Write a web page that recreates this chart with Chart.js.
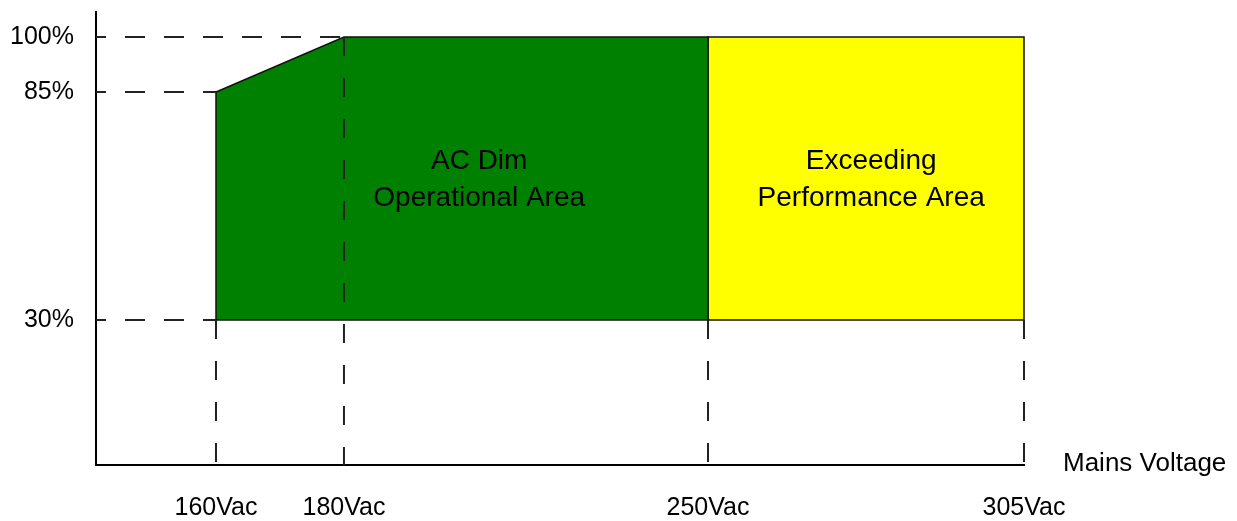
<!DOCTYPE html>
<html>
<head>
<meta charset="utf-8">
<script src="https://cdn.jsdelivr.net/npm/chart.js@4"></script>
<style>
  body { margin: 0; background: #fff; }
  #wrap { width: 1237px; height: 521px; }
</style>
</head>
<body>
<div id="wrap"><canvas id="myChart"></canvas></div>
<script>
// values
const voltageLabels = ["160Vac", "180Vac", "250Vac", "305Vac"];
const voltages = [160, 180, 250, 305];
const levelLabels = ["30%", "85%", "100%"];
const levels = [30, 85, 100];

// AC dim operational area outline (voltage, dim level)
const dimVoltages = [160, 160, 180, 250, 250];
const dimLevels = [30, 85, 100, 100, 30];
// exceeding performance area outline
const exceedVoltages = [250, 250, 305, 305];
const exceedLevels = [30, 100, 100, 30];

const areaNames = [["AC Dim", "Operational Area"], ["Exceeding", "Performance Area"]];
const xTitle = "Mains Voltage";

// axis range
const xMin = 140, xMax = 305;
const yMin = 0, yMax = 110;

// the drawing is not to scale, so each axis is stretched piece by piece
const scaleMaps = {
    x: { values: [xMin, 160, 180, 250, xMax], fractions: [0, 0.1293, 0.2672, 0.6595, 1] },
    y: { values: [yMin, 30, 85, 100, yMax], fractions: [0, 0.3201, 0.8234, 0.9448, 1] }
};
// where the area names sit, in axis units
const areaNameAt = [[206, 64], [278.4, 64]];

function interp(v, from, to) {
    let i = 1;
    while (i < from.length - 1 && v > from[i]) i++;
    const t = (v - from[i - 1]) / (from[i] - from[i - 1]);
    return to[i - 1] + t * (to[i] - to[i - 1]);
}

class PiecewiseScale extends Chart.LinearScale {
    getPixelForValue(value) {
        const m = scaleMaps[this.id];
        const f = interp(value, m.values, m.fractions);
        return this.isHorizontal() ? this.left + f * this.width : this.bottom - f * this.height;
    }
    getValueForPixel(pixel) {
        const m = scaleMaps[this.id];
        const f = this.isHorizontal() ? (pixel - this.left) / this.width : (this.bottom - pixel) / this.height;
        return interp(f, m.fractions, m.values);
    }
}
PiecewiseScale.id = "piecewise";
PiecewiseScale.defaults = {};
Chart.register(PiecewiseScale);

function outline(xs, ys) {
    const pts = xs.map((x, i) => ({ x: x, y: ys[i] }));
    pts.push(pts[0]);
    return pts;
}

const dashStyle = { borderColor: "#222", borderWidth: 2, pointRadius: 0, fill: false, order: 0, clip: false };
const guides = [];
levels.forEach(function(lv) {
    // run from the y axis to where the outline first reaches this level
    const reach = Math.min(...dimVoltages.filter((v, i) => dimLevels[i] === lv));
    guides.push(Object.assign({ data: [{ x: xMin, y: lv }, { x: reach, y: lv }], borderDash: [20, 19], borderDashOffset: 10 }, dashStyle));
});
voltages.forEach(function(v) {
    const all = dimLevels.filter((l, i) => dimVoltages[i] === v)
        .concat(exceedLevels.filter((l, i) => exceedVoltages[i] === v));
    const from = Math.min(...all);
    guides.push(Object.assign({ data: [{ x: v, y: from }, { x: v, y: yMin }], borderDash: [19, 22] }, dashStyle));
});

const labelFont = { family: "'Liberation Sans', Arial, sans-serif", size: 25 };

const textPlugin = {
    id: "areaText",
    afterDraw(chart) {
        const ctx = chart.ctx;
        const xs = chart.scales.x, ys = chart.scales.y;
        ctx.save();
        ctx.fillStyle = "#000";
        ctx.textAlign = "center";
        ctx.textBaseline = "middle";
        ctx.font = "28px 'Liberation Sans', Arial, sans-serif";
        areaNames.forEach(function(lines, k) {
            const px = xs.getPixelForValue(areaNameAt[k][0]);
            const py = ys.getPixelForValue(areaNameAt[k][1]);
            ctx.fillText(lines[0], px, py - 18);
            ctx.fillText(lines[1], px, py + 19);
        });
        ctx.textAlign = "left";
        ctx.font = "26px 'Liberation Sans', Arial, sans-serif";
        ctx.fillText(xTitle, chart.chartArea.right + 39, chart.chartArea.bottom - 1);
        ctx.restore();
    }
};

const ctx = document.getElementById("myChart");
const myChart = new Chart(ctx, {
    type: "line",
    data: {
        datasets: guides.concat([
            {
                label: "AC Dim Operational Area",
                data: outline(dimVoltages, dimLevels),
                backgroundColor: "#008000",
                borderColor: "#111",
                borderWidth: 1.5,
                pointRadius: 0,
                fill: "shape",
                clip: false,
                order: 1
            },
            {
                label: "Exceeding Performance Area",
                data: outline(exceedVoltages, exceedLevels),
                backgroundColor: "#ffff00",
                borderColor: "#111",
                borderWidth: 1.5,
                pointRadius: 0,
                fill: "shape",
                clip: false,
                order: 1
            }
        ])
    },
    options: {
        responsive: true,
        maintainAspectRatio: false,
        animation: false,
        layout: { padding: { left: 0, top: 12, right: 213, bottom: 0 } },
        plugins: { legend: { display: false }, tooltip: { enabled: false } },
        elements: { line: { tension: 0 } },
        scales: {
            x: {
                type: "piecewise",
                min: xMin,
                max: xMax,
                bounds: "data",
                afterBuildTicks: function(scale) {
                    scale.ticks = voltages.map(v => ({ value: v }));
                },
                afterFit: function(scale) {
                    scale.height = 56;
                    scale.paddingLeft = 0;
                    scale.paddingRight = 0;
                },
                grid: { display: false, drawTicks: false },
                border: { display: true, color: "#000", width: 2 },
                ticks: {
                    color: "#000",
                    font: labelFont,
                    padding: 28,
                    maxRotation: 0,
                    autoSkip: false,
                    callback: (v, i) => voltageLabels[i]
                }
            },
            y: {
                type: "piecewise",
                min: yMin,
                max: yMax,
                bounds: "data",
                afterBuildTicks: function(scale) {
                    scale.ticks = levels.map(v => ({ value: v }));
                },
                afterFit: function(scale) {
                    scale.width = 96;
                    scale.paddingTop = 0;
                    scale.paddingBottom = 0;
                },
                grid: { display: false, drawTicks: false },
                border: { display: true, color: "#000", width: 2 },
                ticks: {
                    color: "#000",
                    font: labelFont,
                    padding: 22,
                    autoSkip: false,
                    callback: (v, i) => levelLabels[i]
                }
            }
        }
    },
    plugins: [textPlugin]
});
</script>
</body>
</html>
